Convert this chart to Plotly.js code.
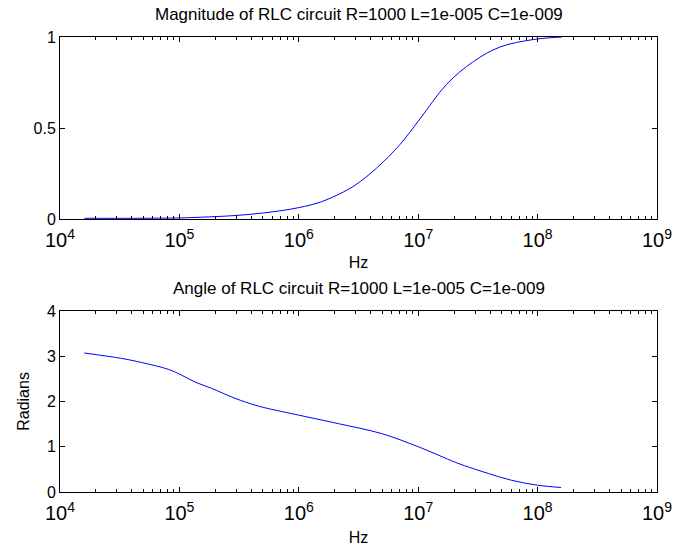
<!DOCTYPE html>
<html>
<head>
<meta charset="utf-8">
<script src="https://cdn.plot.ly/plotly-3.0.1.min.js"></script>
<style>html,body{margin:0;padding:0;background:#fff;}#chart{width:674px;height:550px;}</style>
</head>
<body>
<div id="chart"></div>
<script>
// Magnitude (top panel): frequency in Hz and |H|
const magFreq = [1.6e4, 5e4, 1.0e5, 1.54e5, 2.92e5, 5.21e5, 9.9e5, 1.55e6, 2.21e6, 2.95e6, 4.49e6, 7.05e6, 1.035e7, 1.73e7, 2.9e7, 4.84e7, 9.2e7, 1.6e8];
const magVal  = [0.004, 0.004, 0.006, 0.01, 0.019, 0.034, 0.062, 0.095, 0.139, 0.185, 0.28, 0.41, 0.55, 0.74, 0.865, 0.945, 0.986, 1.0];

// Angle (bottom panel): frequency in Hz and angle in radians
const angFreq = [1.6e4, 3.29e4, 4.83e4, 8.07e4, 1.045e5, 1.35e5, 1.86e5, 2.92e5, 4.29e5, 5.21e5, 9.9e5, 2.14e6, 4.94e6, 1.0e7, 2.03e7, 2.45e7, 3.86e7, 6.03e7, 1.0e8, 1.57e8];
const angVal  = [3.07, 2.95, 2.86, 2.71, 2.58, 2.43, 2.29, 2.07, 1.92, 1.86, 1.70, 1.51, 1.29, 1.0, 0.66, 0.58, 0.41, 0.26, 0.15, 0.10];

const titleTop = 'Magnitude of RLC circuit R=1000 L=1e-005 C=1e-009';
const titleBottom = 'Angle of RLC circuit R=1000 L=1e-005 C=1e-009';

const font = {family: 'Liberation Sans, Arial, sans-serif', size: 16, color: '#000'};
const titleFont = {family: 'Liberation Sans, Arial, sans-serif', size: 17, color: '#000'};

const xCommon = {
  type: 'log', range: [4, 9], dtick: 1, exponentformat: 'power',
  showline: true, linecolor: '#000', linewidth: 1, mirror: 'allticks',
  ticks: 'inside', ticklen: 5, tickcolor: '#000', showgrid: false, zeroline: false,
  minor: {ticks: 'inside', ticklen: 3, dtick: 'D1', tickcolor: '#000', showgrid: false},
  tickfont: font, ticklabelstandoff: 4
};
const yCommon = {
  showline: true, linecolor: '#000', linewidth: 1, mirror: 'allticks',
  ticks: 'inside', ticklen: 5, tickcolor: '#000', showgrid: false, zeroline: false,
  tickfont: font
};

const data = [
  {x: magFreq, y: magVal, xaxis: 'x', yaxis: 'y', type: 'scatter', mode: 'lines',
   line: {color: '#0000ff', width: 1, shape: 'spline'}, hoverinfo: 'none'},
  {x: angFreq, y: angVal, xaxis: 'x2', yaxis: 'y2', type: 'scatter', mode: 'lines',
   line: {color: '#0000ff', width: 1, shape: 'spline'}, hoverinfo: 'none'}
];

const layout = {
  width: 674, height: 550,
  margin: {l: 60, r: 17, t: 37, b: 58},
  paper_bgcolor: '#fff', plot_bgcolor: '#fff',
  showlegend: false,
  font: font,
  xaxis: Object.assign({}, xCommon, {anchor: 'y', domain: [0, 1], title: {text: 'Hz', font: font, standoff: 6}}),
  yaxis: Object.assign({}, yCommon, {anchor: 'x', domain: [0.6, 1], range: [0, 1], tickvals: [0, 0.5, 1]}),
  xaxis2: Object.assign({}, xCommon, {anchor: 'y2', domain: [0, 1], title: {text: 'Hz', font: font, standoff: 8}}),
  yaxis2: Object.assign({}, yCommon, {anchor: 'x2', domain: [0, 0.398], range: [0, 4], dtick: 1,
    title: {text: 'Radians', font: font, standoff: 13}}),
  annotations: [
    {text: titleTop, xref: 'paper', yref: 'paper', x: 0.5, y: 1, yshift: 11, xanchor: 'center', yanchor: 'bottom', showarrow: false, font: titleFont},
    {text: titleBottom, xref: 'paper', yref: 'paper', x: 0.5, y: 0.398, yshift: 11, xanchor: 'center', yanchor: 'bottom', showarrow: false, font: titleFont}
  ]
};

Plotly.newPlot('chart', data, layout, {displayModeBar: false, staticPlot: true});
</script>
</body>
</html>
